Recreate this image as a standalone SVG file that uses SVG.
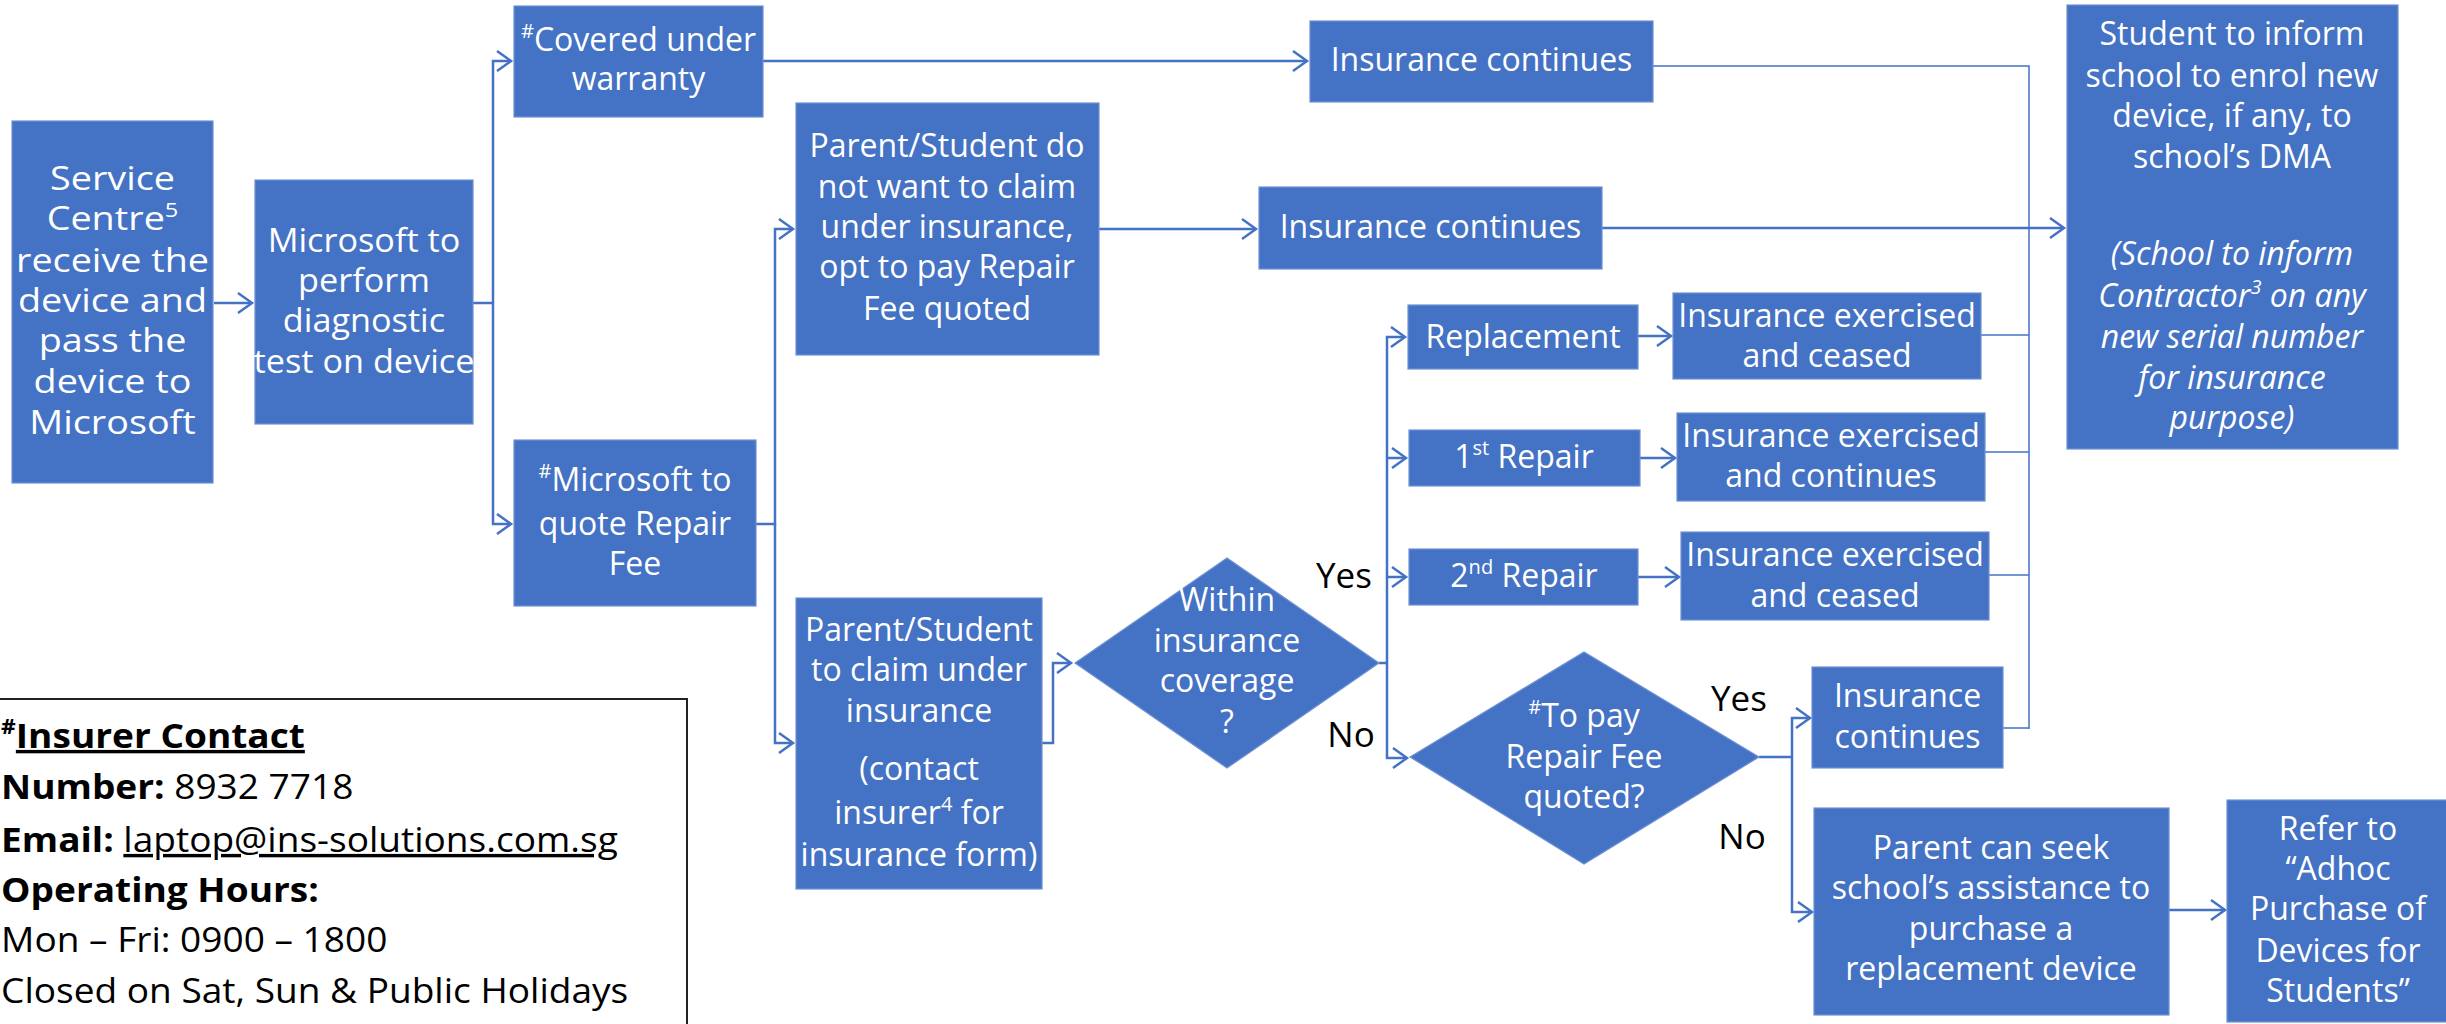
<svg xmlns="http://www.w3.org/2000/svg" width="2446" height="1024" viewBox="0 0 2446 1024">
<style>
.bg{fill:#fff}
.box{fill:#4472C4;stroke:#6f91d3;stroke-width:1.2}
.t{font-family:'Open Sans','Liberation Sans',sans-serif;font-size:32px;fill:#fff;text-anchor:middle}
.it{font-style:italic}
.lbl{font-family:'Open Sans','Liberation Sans',sans-serif;font-size:35px;fill:#000;text-anchor:middle}
.ct{font-family:'Open Sans','Liberation Sans',sans-serif;font-size:34px;fill:#000}
.b{font-weight:bold}
.c{fill:none;stroke:#4472C4;stroke-width:2.5}
.thin{fill:none;stroke:#4472C4;stroke-width:1.5}
</style>
<defs>
<marker id="ah" markerUnits="userSpaceOnUse" markerWidth="24" markerHeight="26" refX="17" refY="12" orient="auto" overflow="visible">
<path d="M3,2 L17,12 L3,22" fill="none" stroke="#4472C4" stroke-width="2.5"/>
</marker>
</defs>
<rect class="bg" x="0" y="0" width="2446" height="1024"/>

<g id="connectors">
<path class="c" d="M214,303 H252" marker-end="url(#ah)"/>
<path class="c" d="M473,303 H493"/>
<path class="c" d="M493,303 V61 H511" marker-end="url(#ah)"/>
<path class="c" d="M493,303 V524 H511" marker-end="url(#ah)"/>
<path class="c" d="M763,61 H1307" marker-end="url(#ah)"/>
<path class="c" d="M756,524 H775 V229 H793" marker-end="url(#ah)"/>
<path class="c" d="M775,524 V743 H793" marker-end="url(#ah)"/>
<path class="c" d="M1099,229 H1256" marker-end="url(#ah)"/>
<path class="c" d="M1602,228 H2064" marker-end="url(#ah)"/>
<path class="c" d="M1042,743 H1053 V663 H1071" marker-end="url(#ah)"/>
<path class="c" d="M1379,663 H1387"/>
<path class="c" d="M1387,663 V337 H1405" marker-end="url(#ah)"/>
<path class="c" d="M1387,458 H1406" marker-end="url(#ah)"/>
<path class="c" d="M1387,577 H1406" marker-end="url(#ah)"/>
<path class="c" d="M1387,663 V758 H1407" marker-end="url(#ah)"/>
<path class="c" d="M1638,336 H1671" marker-end="url(#ah)"/>
<path class="c" d="M1640,458 H1675" marker-end="url(#ah)"/>
<path class="c" d="M1638,577 H1679" marker-end="url(#ah)"/>
<path class="c" d="M1759,757 H1792"/>
<path class="c" d="M1792,757 V718 H1810" marker-end="url(#ah)"/>
<path class="c" d="M1792,757 V912 H1812" marker-end="url(#ah)"/>
<path class="c" d="M2169,910 H2225" marker-end="url(#ah)"/>
<path class="thin" d="M1653,66 H2029 V729"/>
<path class="thin" d="M1981,335 H2029"/>
<path class="thin" d="M1985,452 H2029"/>
<path class="thin" d="M1988,575 H2029"/>
<path class="thin" d="M2003,728 H2029"/>
</g>

<g id="service-centre">
<rect class="box" x="12" y="121" width="201" height="362"/>
<g transform="translate(112.5 0) scale(1.18 1)">
<text class="t" x="0" y="190">Service</text>
<text class="t" x="0" y="230">Centre<tspan font-size="20" dy="-13">5</tspan></text>
<text class="t" x="0" y="272">receive the</text>
<text class="t" x="0" y="312">device and</text>
<text class="t" x="0" y="352">pass the</text>
<text class="t" x="0" y="393">device to</text>
<text class="t" x="0" y="434">Microsoft</text>
</g>
</g>

<g id="diagnostic">
<rect class="box" x="255" y="180" width="218" height="244"/>
<g transform="translate(364 0) scale(1.07 1)">
<text class="t" x="0" y="252">Microsoft to</text>
<text class="t" x="0" y="292">perform</text>
<text class="t" x="0" y="332">diagnostic</text>
<text class="t" x="0" y="373">test on device</text>
</g>
</g>

<g id="covered-warranty">
<rect class="box" x="514" y="6" width="249" height="111"/>
<text class="t" x="638.5" y="51" font-size="33"><tspan font-size="20" dy="-13">#</tspan><tspan dy="13">Covered under</tspan></text>
<text class="t" x="638.5" y="90" font-size="33">warranty</text>
</g>

<g id="quote-repair">
<rect class="box" x="514" y="440" width="242" height="166"/>
<text class="t" x="635" y="491"><tspan font-size="20" dy="-13">#</tspan><tspan dy="13">Microsoft to</tspan></text>
<text class="t" x="635" y="535">quote Repair</text>
<text class="t" x="635" y="575">Fee</text>
</g>

<g id="insurance-continues-1">
<rect class="box" x="1310" y="21" width="343" height="81"/>
<text class="t" x="1481.5" y="71">Insurance continues</text>
</g>

<g id="parent-no-claim">
<rect class="box" x="796" y="103" width="303" height="252"/>
<text class="t" x="947" y="157">Parent/Student do</text>
<text class="t" x="947" y="198">not want to claim</text>
<text class="t" x="947" y="238">under insurance,</text>
<text class="t" x="947" y="278">opt to pay Repair</text>
<text class="t" x="947" y="320">Fee quoted</text>
</g>

<g id="insurance-continues-2">
<rect class="box" x="1259" y="187" width="343" height="82"/>
<text class="t" x="1430.5" y="238">Insurance continues</text>
</g>

<g id="parent-claim">
<rect class="box" x="796" y="598" width="246" height="291"/>
<text class="t" x="919" y="641">Parent/Student</text>
<text class="t" x="919" y="681">to claim under</text>
<text class="t" x="919" y="722">insurance</text>
<text class="t" x="919" y="780">(contact</text>
<text class="t" x="919" y="824">insurer<tspan font-size="20" dy="-13">4</tspan><tspan dy="13"> for</tspan></text>
<text class="t" x="919" y="866">insurance form)</text>
</g>

<g id="within-coverage">
<polygon class="box" points="1075,663 1227,558 1379,663 1227,768"/>
<text class="t" x="1227" y="611">Within</text>
<text class="t" x="1227" y="652">insurance</text>
<text class="t" x="1227" y="692">coverage</text>
<text class="t" x="1227" y="733">?</text>
</g>

<g id="labels">
<text class="lbl" x="1344" y="588">Yes</text>
<text class="lbl" x="1351" y="747">No</text>
<text class="lbl" x="1739" y="711">Yes</text>
<text class="lbl" x="1742" y="849">No</text>
</g>

<g id="replacement">
<rect class="box" x="1408" y="305" width="230" height="64"/>
<text class="t" x="1523" y="348">Replacement</text>
</g>

<g id="first-repair">
<rect class="box" x="1409" y="430" width="231" height="56"/>
<text class="t" x="1524" y="468">1<tspan font-size="20" dy="-13">st</tspan><tspan dy="13"> Repair</tspan></text>
</g>

<g id="second-repair">
<rect class="box" x="1409" y="549" width="229" height="56"/>
<text class="t" x="1524" y="587">2<tspan font-size="20" dy="-13">nd</tspan><tspan dy="13"> Repair</tspan></text>
</g>

<g id="exercised-ceased-1">
<rect class="box" x="1673" y="293" width="308" height="86"/>
<text class="t" x="1827" y="327">Insurance exercised</text>
<text class="t" x="1827" y="367">and ceased</text>
</g>

<g id="exercised-continues">
<rect class="box" x="1677" y="413" width="308" height="88"/>
<text class="t" x="1831" y="447">Insurance exercised</text>
<text class="t" x="1831" y="487">and continues</text>
</g>

<g id="exercised-ceased-2">
<rect class="box" x="1681" y="532" width="308" height="88"/>
<text class="t" x="1835" y="566">Insurance exercised</text>
<text class="t" x="1835" y="607">and ceased</text>
</g>

<g id="to-pay">
<polygon class="box" points="1410,757 1584,652 1759,757 1584,864"/>
<text class="t" x="1584" y="727"><tspan font-size="20" dy="-13">#</tspan><tspan dy="13">To pay</tspan></text>
<text class="t" x="1584" y="768">Repair Fee</text>
<text class="t" x="1584" y="808">quoted?</text>
</g>

<g id="insurance-continues-3">
<rect class="box" x="1812" y="667" width="191" height="101"/>
<text class="t" x="1907.5" y="707">Insurance</text>
<text class="t" x="1907.5" y="748">continues</text>
</g>

<g id="parent-seek">
<rect class="box" x="1814" y="808" width="355" height="207"/>
<text class="t" x="1991" y="859">Parent can seek</text>
<text class="t" x="1991" y="899">school’s assistance to</text>
<text class="t" x="1991" y="940">purchase a</text>
<text class="t" x="1991" y="980">replacement device</text>
</g>

<g id="refer-adhoc">
<rect class="box" x="2227" y="800" width="225" height="222"/>
<text class="t" x="2338" y="840">Refer to</text>
<text class="t" x="2338" y="880">“Adhoc</text>
<text class="t" x="2338" y="920">Purchase of</text>
<text class="t" x="2338" y="962">Devices for</text>
<text class="t" x="2338" y="1002">Students”</text>
</g>

<g id="student-inform">
<rect class="box" x="2067" y="5" width="331" height="444"/>
<text class="t" x="2232" y="45">Student to inform</text>
<text class="t" x="2232" y="87">school to enrol new</text>
<text class="t" x="2232" y="127">device, if any, to</text>
<text class="t" x="2232" y="168">school’s DMA</text>
<text class="t it" x="2232" y="265">(School to inform</text>
<text class="t it" x="2232" y="307">Contractor<tspan font-size="20" dy="-13">3</tspan><tspan dy="13"> on any</tspan></text>
<text class="t it" x="2232" y="348">new serial number</text>
<text class="t it" x="2232" y="389">for insurance</text>
<text class="t it" x="2232" y="429">purpose)</text>
</g>

<g id="insurer-contact">
<rect x="-4" y="699" width="691" height="340" fill="none" stroke="#222" stroke-width="2"/>
<g transform="scale(1.09 1)">
<text class="ct b" x="1" y="748"><tspan font-size="21" dy="-14">#</tspan><tspan dy="14" text-decoration="underline">Insurer Contact</tspan></text>
<text class="ct" x="1" y="799"><tspan class="b">Number:</tspan> 8932 7718</text>
<text class="ct" x="1" y="852"><tspan class="b">Email:</tspan> <tspan text-decoration="underline">laptop@ins-solutions.com.sg</tspan></text>
<text class="ct b" x="1" y="902">Operating Hours:</text>
<text class="ct" x="1" y="952">Mon – Fri: 0900 – 1800</text>
<text class="ct" x="1" y="1003">Closed on Sat, Sun &amp; Public Holidays</text>
</g>
</g>
</svg>
